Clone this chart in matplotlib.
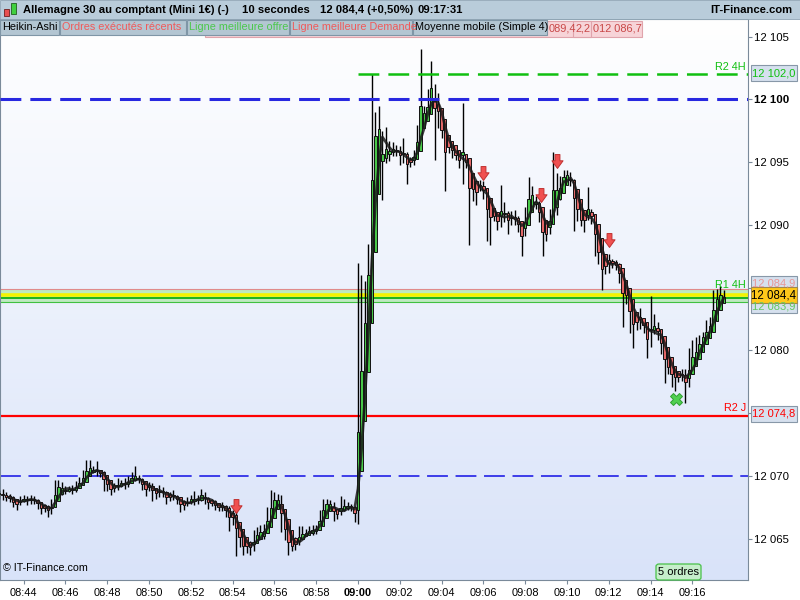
import numpy as np
import pandas as pd
import matplotlib.pyplot as plt
from matplotlib.patches import Rectangle, FancyBboxPatch
from matplotlib.colors import LinearSegmentedColormap
from matplotlib.path import Path

plt.rcParams['font.family'] = ['Liberation Sans', 'DejaVu Sans']
plt.rcParams['lines.scale_dashes'] = False

# 10 second bars, first bar at 08:42:50, last one at 09:17:30
first_bar_min = -17 - 10 / 60.   # minutes relative to 09:00
first_open = 12068.6

closes = [
    12068.5, 12068.3, 12068.4, 12068.1, 12067.8, 12067.9, 12068.1, 12068.2, 12068.0, 12068.2,
    12068.0, 12067.7, 12067.3, 12067.5, 12067.2, 12067.8, 12068.9, 12069.3, 12068.8, 12068.9,
    12069.0, 12068.9, 12069.3, 12069.6, 12069.9, 12070.6, 12070.4, 12070.5, 12070.3, 12070.2,
    12069.6, 12069.1, 12068.9, 12069.1, 12069.4, 12069.5, 12069.3, 12069.7, 12069.9, 12069.8,
    12069.6, 12069.2, 12069.0, 12069.2, 12068.8, 12068.5, 12068.9, 12068.6, 12068.2, 12068.4,
    12068.3, 12068.1, 12067.5, 12067.8, 12068.0, 12068.2, 12068.0, 12068.3, 12068.5, 12068.1,
    12067.8, 12067.9, 12067.6, 12067.4, 12067.5, 12067.3, 12066.4, 12067.0, 12065.6, 12064.8,
    12064.3, 12064.6, 12064.2, 12064.9, 12065.6, 12065.3, 12065.9, 12066.6, 12067.9, 12068.4,
    12067.8, 12066.4, 12065.2, 12064.6, 12064.3, 12064.8, 12065.2, 12065.4, 12065.5, 12065.8,
    12065.6, 12065.9, 12066.8, 12067.6, 12067.9, 12067.6, 12066.9, 12067.1, 12067.4, 12067.5,
    12067.6, 12067.4, 12066.9, 12074.0, 12080.0, 12084.0, 12088.0, 12097.0, 12098.0, 12097.0,
    12096.0, 12095.4, 12096.3, 12095.8, 12096.0, 12095.2, 12095.5, 12094.9, 12095.1, 12095.6,
    12097.5, 12099.2, 12098.6, 12100.0, 12100.8, 12100.2, 12098.0, 12097.2, 12096.0, 12096.4,
    12095.6, 12095.5, 12094.8, 12095.3, 12094.8, 12093.5, 12092.4, 12093.0, 12093.2, 12092.4,
    12091.4, 12090.9, 12090.6, 12090.1, 12091.3, 12090.5, 12090.8, 12090.3, 12090.4, 12089.7,
    12089.4, 12091.1, 12092.6, 12092.0, 12091.6, 12090.5, 12089.0, 12089.6, 12090.9, 12093.8,
    12092.3, 12093.6, 12094.1, 12093.9, 12093.4, 12091.9, 12090.6, 12090.2, 12090.7, 12091.0,
    12090.4, 12088.5, 12087.2, 12086.4, 12087.1, 12087.0, 12086.9, 12086.7, 12085.7, 12084.8,
    12084.0, 12083.0, 12081.9, 12082.6, 12082.3, 12081.7, 12080.6, 12081.6, 12082.0, 12081.1,
    12080.3, 12079.0, 12078.4, 12078.3, 12077.8, 12077.9, 12078.2, 12077.4, 12079.0, 12079.3,
    12080.1, 12080.9, 12081.2, 12081.5, 12082.4, 12083.6, 12084.6, 12084.1, 12084.4]

wick_up = [
    0.3, 0.5, 0.3, 0.2, 0.3, 0.2, 0.3, 0.3, 0.2, 0.3,
    0.2, 0.2, 0.2, 0.3, 0.2, 0.4, 0.8, 0.4, 0.2, 0.3,
    0.2, 0.3, 0.3, 0.3, 0.6, 0.7, 0.7, 0.3, 0.7, 0.2,
    0.2, 0.2, 0.2, 0.3, 0.4, 0.2, 0.3, 0.3, 0.4, 0.9,
    0.3, 0.2, 0.2, 0.3, 0.2, 0.2, 0.4, 0.2, 0.2, 0.3,
    0.5, 0.2, 0.2, 0.3, 0.3, 0.3, 0.6, 0.2, 0.5, 0.2,
    0.2, 0.3, 0.2, 0.2, 0.4, 0.2, 0.3, 0.3, 0.2, 0.3,
    0.2, 0.3, 0.2, 0.8, 0.3, 0.5, 0.3, 0.9, 1.0, 0.3,
    0.2, 0.7, 0.2, 0.2, 0.3, 0.3, 0.8, 0.6, 0.3, 0.2,
    0.3, 0.2, 0.5, 0.6, 0.3, 0.2, 0.3, 0.3, 1.0, 0.7,
    0.3, 0.2, 0.2, 13.0, 6.0, 1.5, 0.5, 5.0, 1.0, 1.5,
    0.5, 1.8, 0.4, 0.3, 0.4, 0.3, 1.4, 0.3, 0.3, 0.4,
    0.5, 4.8, 0.3, 0.8, 2.3, 0.4, 0.3, 0.3, 0.3, 0.3,
    0.3, 0.3, 0.3, 4.4, 0.3, 0.3, 0.3, 0.6, 0.4, 0.3,
    0.3, 0.3, 0.3, 0.3, 1.9, 0.5, 0.3, 0.3, 0.8, 0.3,
    0.3, 0.3, 1.2, 0.5, 0.3, 0.3, 0.3, 0.3, 0.4, 2.0,
    0.3, 0.3, 0.3, 0.3, 0.3, 0.3, 0.3, 0.3, 0.5, 2.0,
    0.3, 0.3, 0.3, 0.3, 0.3, 0.6, 0.3, 0.3, 0.3, 0.3,
    0.3, 0.3, 0.3, 0.3, 0.8, 0.3, 0.3, 2.7, 0.9, 0.3,
    0.3, 0.3, 0.3, 0.3, 0.3, 0.3, 0.3, 0.3, 1.2, 1.5,
    1.0, 0.3, 0.3, 0.9, 0.3, 1.2, 0.3, 0.5, 0.4]

wick_down = [
    0.3, 0.2, 0.3, 0.2, 0.3, 0.5, 0.2, 0.2, 0.3, 0.2,
    0.2, 0.3, 0.3, 0.2, 0.5, 0.2, 0.2, 0.3, 0.3, 0.2,
    0.2, 0.3, 0.2, 0.2, 0.2, 0.2, 0.3, 0.2, 0.3, 0.3,
    0.8, 0.3, 0.4, 0.2, 0.2, 0.3, 0.3, 0.2, 0.2, 0.2,
    0.2, 0.3, 0.6, 0.2, 0.8, 0.3, 0.2, 0.3, 0.4, 0.2,
    0.2, 0.3, 0.4, 0.2, 0.2, 0.2, 0.3, 0.2, 0.3, 0.3,
    0.4, 0.2, 0.3, 0.2, 0.2, 0.6, 0.8, 0.3, 2.0, 0.5,
    0.6, 0.4, 0.5, 0.2, 0.2, 0.2, 0.3, 0.2, 0.3, 0.6,
    0.2, 0.9, 0.3, 0.9, 0.3, 0.2, 0.3, 0.2, 0.2, 0.2,
    0.3, 0.2, 0.2, 0.2, 0.2, 0.2, 0.5, 0.3, 0.2, 0.2,
    0.2, 0.2, 0.6, 0.7, 0.5, 0.6, 0.5, 0.6, 2.5, 1.0,
    4.0, 0.5, 0.3, 0.3, 0.3, 0.4, 0.3, 1.6, 0.3, 0.3,
    0.3, 0.3, 0.3, 0.3, 0.3, 5.0, 0.3, 0.3, 3.3, 0.3,
    0.3, 0.3, 0.3, 1.5, 0.3, 5.1, 0.5, 0.8, 0.3, 0.3,
    2.7, 2.5, 0.3, 0.5, 0.3, 0.3, 1.2, 0.3, 0.3, 0.3,
    1.9, 0.3, 0.3, 0.3, 0.3, 0.3, 1.5, 0.3, 0.3, 0.3,
    1.5, 0.3, 0.3, 0.3, 0.3, 2.4, 0.3, 0.3, 0.8, 0.3,
    0.3, 1.0, 0.3, 1.6, 0.3, 0.8, 0.3, 0.3, 0.3, 2.9,
    0.3, 1.6, 1.7, 0.3, 0.6, 0.3, 1.2, 0.3, 0.3, 0.3,
    0.6, 1.6, 0.3, 1.2, 1.0, 0.3, 0.3, 1.6, 0.3, 0.3,
    0.3, 0.3, 0.3, 0.3, 0.3, 0.3, 0.3, 0.3, 0.3]

# horizontal levels
r2_4h = 12102.0
r1_4h = 12084.2
r2_j = 12074.8
round_hi = 12100.0
round_lo = 12070.0
best_ask = 12084.9
best_bid = 12083.9
last_price = 12084.4

# signals (bar index, price)
sell_bars = [68, 139, 155.5, 160, 175]
sell_prices = [12067.6, 12094.1, 12092.4, 12095.1, 12088.8]
buy_bars = [194.2]
buy_prices = [12076.1]

# 12 085 and 12 075 sit under the price boxes, so no label is shown there
price_ticks = [12065, 12070, 12075, 12080, 12085, 12090, 12095, 12100, 12105]
price_hidden = [12075, 12085]
time_ticks = list(range(-16, 17, 2))
time_labels = ['08:44', '08:46', '08:48', '08:50', '08:52', '08:54', '08:56', '08:58', '09:00',
               '09:02', '09:04', '09:06', '09:08', '09:10', '09:12', '09:14', '09:16']

tab_labels = ['Heikin-Ashi', 'Ordres exécutés récents', 'Ligne meilleure offre',
              'Ligne meilleure Demande', 'Moyenne mobile (Simple 4)']

# Heikin-Ashi from the 10 s bars
closes = np.array(closes)
n = len(closes)
opens = np.concatenate([[first_open], closes[:-1]])
highs = np.maximum(opens, closes) + np.array(wick_up)
lows = np.minimum(opens, closes) - np.array(wick_down)
ha_close = (opens + highs + lows + closes) / 4.
ha_open = np.empty(n)
ha_open[0] = (opens[0] + closes[0]) / 2.
for i in range(1, n):
    ha_open[i] = (ha_open[i - 1] + ha_close[i - 1]) / 2.
ha_high = np.maximum.reduce([highs, ha_open, ha_close])
ha_low = np.minimum.reduce([lows, ha_open, ha_close])
times = first_bar_min + np.arange(n) / 6.
sma4 = pd.Series(closes).rolling(4).mean()

W, H = 800., 600.


def fx(px):
    return px / W


def fy(py):
    return 1. - py / H


fig = plt.figure(figsize=(8, 6), dpi=100)
fig.patch.set_facecolor('white')
ax = fig.add_axes([0, fy(580), fx(748), (580 - 19) / H])

xmin, xmax = -17.13, 18.66
ymin, ymax = 12061.71, 12106.41
ax.set_xlim(xmin, xmax)
ax.set_ylim(ymin, ymax)

bg = LinearSegmentedColormap.from_list('bg', ['#ffffff', '#d9e3f9'])
ax.imshow(np.linspace(0, 1, 256).reshape(-1, 1), extent=[xmin, xmax, ymin, ymax],
          aspect='auto', cmap=bg, origin='upper', zorder=0)

# bid / ask band and levels
ax.axhspan(best_bid, best_ask, color='#b6e8b6', alpha=0.85, zorder=1, lw=0)
ax.axhline(best_ask, color='#e08a8a', lw=0.8, zorder=1)
ax.axhline(best_bid, color='#40c040', lw=0.8, zorder=1)
ax.axhline(last_price, color='#f4f400', lw=2.6, zorder=1)
ax.axhline(r1_4h, color='#10b010', lw=1.3, zorder=1)
ax.axhline(r2_j, color='#ff0000', lw=1.6, zorder=1)
ax.axhline(round_lo, color='#3030e8', lw=1.3, dashes=(15, 5.5), zorder=1)

# candles
up = ha_close >= ha_open
body_lo = np.minimum(ha_open, ha_close)
body_h = np.maximum(np.abs(ha_close - ha_open), 0.08)
ax.vlines(times, ha_low, ha_high, color='black', lw=1.0, zorder=3)
ax.bar(times, body_h, bottom=body_lo, width=0.12,
       color=np.where(up, '#48c848', '#e46868'), edgecolor='#111111', linewidth=0.7, zorder=4)
ax.plot(times, sma4, color='#1a1a1a', lw=2.0, alpha=0.85, zorder=5)

ax.axhline(round_hi, color='#2828e0', lw=2.2, dashes=(15, 6.5), zorder=6)
ax.plot([0, xmax], [r2_4h, r2_4h], color='#10c010', lw=1.8, dashes=(15, 6.5), zorder=6)

# signal markers
arrow = Path([(-0.35, 1), (0.35, 1), (0.35, 0.1), (0.8, 0.1), (0, -1), (-0.8, 0.1),
              (-0.35, 0.1), (-0.35, 1)], closed=True)
ax.plot(first_bar_min + np.array(sell_bars) / 6., sell_prices, ls='none', marker=arrow,
        ms=10, mfc='#f05050', mec='#c03030', mew=0.7, zorder=7)
ax.plot(first_bar_min + np.array(buy_bars) / 6., buy_prices, ls='none', marker='X',
        ms=9, mfc='#50d050', mec='#30a030', mew=0.7, zorder=7)

# level labels
trans = ax.get_yaxis_transform()
ax.text(0.997, r2_4h + 0.2, 'R2 4H', transform=trans, ha='right', va='bottom',
        color='#10c010', fontsize=7.8, zorder=8)
ax.text(0.997, best_ask - 0.05, 'R1 4H', transform=trans, ha='right', va='bottom',
        color='#10c010', fontsize=7.8, zorder=8)
ax.text(0.997, r2_j + 0.2, 'R2 J', transform=trans, ha='right', va='bottom',
        color='#ff0000', fontsize=7.8, zorder=8)

# axes styling
for side in ['left', 'right', 'bottom', 'top']:
    ax.spines[side].set_color('#7a8a9a')
ax.yaxis.tick_right()
ax.set_yticks(price_ticks)
ax.set_yticklabels(['' if p in price_hidden else '{:,}'.format(p).replace(',', ' ')
                    for p in price_ticks])
ax.yaxis.get_ticklabels()[price_ticks.index(12100)].set_fontweight('bold')
ax.tick_params(axis='y', direction='out', length=3, width=0.8, color='#7a8a9a', pad=1,
               labelsize=8.2)
ax.set_xticks(time_ticks)
ax.set_xticklabels(time_labels)
ax.xaxis.get_ticklabels()[time_labels.index('09:00')].set_fontweight('bold')
ax.tick_params(axis='x', direction='out', length=3, width=0.8, color='#7a8a9a', pad=2.5,
               labelsize=7.9)

ax.text(fx(3) / fx(748), 0.012, '© IT-Finance.com', transform=ax.transAxes, fontsize=7.7,
        ha='left', va='bottom', zorder=8)


def box(x0, y0, x1, y1, fc, ec, lw=0.8, z=2):
    fig.patches.append(Rectangle((fx(x0), fy(y1)), fx(x1 - x0), (y1 - y0) / H, fc=fc, ec=ec,
                                 lw=lw, transform=fig.transFigure, zorder=z))


def price_box(y0, y1, text, tcolor, fc='#d6e0ee', ec='#8898a8', size=8.0):
    box(751, y0, 797, y1, fc, ec)
    fig.text(fx(774), fy((y0 + y1) / 2.), text, ha='center', va='center', color=tcolor,
             fontsize=size, zorder=3)


price_box(276, 290, '12 084,9', '#e89898')
price_box(300, 313, '12 083,9', '#60c860')
price_box(287, 303, '12 084,4', 'black', fc='#ffc81a', ec='#a08850', size=8.3)
price_box(65, 81, '12 102,0', '#10c010')
price_box(406, 422, '12 074,8', '#ff0000')

# header
box(0, 0, 800, 19, '#b9ccda', '#8fa4b4', lw=0.6)
box(4, 9, 9, 16, '#e85050', '#702020', lw=0.6)
box(11, 3, 16, 14, '#40d040', '#206020', lw=0.6)
fig.text(fx(23), fy(10), 'Allemagne 30 au comptant (Mini 1€) (-)', fontsize=8.1,
         fontweight='bold', va='center', zorder=3)
fig.text(fx(242), fy(10), '10 secondes', fontsize=8.1, fontweight='bold', va='center',
         zorder=3)
fig.text(fx(320), fy(10), '12 084,4 (+0,50%)', fontsize=8.1, fontweight='bold', va='center',
         zorder=3)
fig.text(fx(418), fy(10), '09:17:31', fontsize=8.1, fontweight='bold', va='center', zorder=3)
fig.text(fx(792), fy(10), 'IT-Finance.com', fontsize=8.1, fontweight='bold', va='center',
         ha='right', zorder=3)

# hidden order labels behind the tabs
box(205, 21, 642, 37, '#f7d4d8', '#e0a4ac')
box(573, 21, 591, 37, '#f7d4d8', '#e0a4ac')
fig.text(fx(549), fy(28.5), '089,4', fontsize=7.9, color='#c84848', va='center', zorder=3)
fig.text(fx(575), fy(28.5), '2,2', fontsize=7.9, color='#c84848', va='center', zorder=3)
fig.text(fx(593), fy(28.5), '012 086,7', fontsize=7.9, color='#c84848', va='center', zorder=3)

tab_edges = [(0, 59), (60, 186), (187, 289), (290, 412), (413, 547)]
tab_colors = ['black', '#f05a5a', '#4cc84c', '#f05a5a', 'black']
for label, (x0, x1), col in zip(tab_labels, tab_edges, tab_colors):
    box(x0, 20, x1, 35, '#b3c6d2', '#7f96a6', z=4)
    fig.text(fx(x0 + 2), fy(27.5), label, fontsize=7.8, color=col, va='center', zorder=5)

# order count tab
fig.patches.append(FancyBboxPatch((fx(656), fy(580)), fx(45), 16 / H,
                                  boxstyle='round,pad=0,rounding_size=0.004',
                                  fc='#c6eecb', ec='#48c048', lw=0.9,
                                  transform=fig.transFigure, zorder=2))
fig.text(fx(678.5), fy(572), '5 ordres', fontsize=8, ha='center', va='center', zorder=3)

fig.savefig('out.png', dpi=100)
